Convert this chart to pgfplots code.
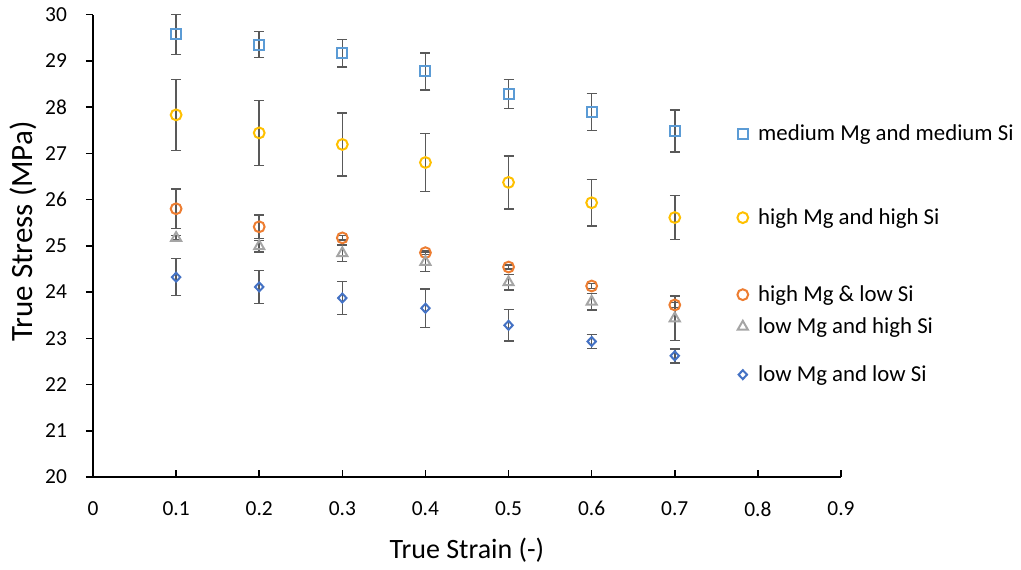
\documentclass[border=0pt]{standalone}
\usepackage{pgfplots}
\pgfplotsset{compat=1.18}
\usepackage{pgfplotstable}
\usepackage{fontspec}
\setmainfont{Carlito}

\definecolor{cMedMed}{HTML}{5B9BD5}
\definecolor{cHighHigh}{HTML}{FFC000}
\definecolor{cHighLow}{HTML}{ED7D31}
\definecolor{cLowHigh}{HTML}{A5A5A5}
\definecolor{cLowLow}{HTML}{4472C4}
\definecolor{cErr}{HTML}{595959}

% strain, mean stress (MPa), standard deviation
\pgfplotstableread{
x    y      e
0.1  29.57  0.43
0.2  29.35  0.28
0.3  29.16  0.30
0.4  28.77  0.40
0.5  28.28  0.31
0.6  27.89  0.40
0.7  27.48  0.45
}\medmed
\pgfplotstableread{
x    y      e
0.1  27.83  0.77
0.2  27.44  0.70
0.3  27.19  0.68
0.4  26.80  0.63
0.5  26.37  0.57
0.6  25.93  0.50
0.7  25.61  0.48
}\highhigh
\pgfplotstableread{
x    y      e
0.1  25.80  0.43
0.2  25.41  0.25
0.3  25.17  0.05
0.4  24.85  0.04
0.5  24.54  0.04
0.6  24.13  0.05
0.7  23.72  0.05
}\highlow
\pgfplotstableread{
x    y      e
0.1  25.17  0.05
0.2  24.99  0.12
0.3  24.84  0.18
0.4  24.65  0.21
0.5  24.21  0.17
0.6  23.79  0.18
0.7  23.43  0.48
}\lowhigh
\pgfplotstableread{
x    y      e
0.1  24.32  0.40
0.2  24.11  0.36
0.3  23.87  0.36
0.4  23.65  0.42
0.5  23.28  0.34
0.6  22.93  0.15
0.7  22.62  0.15
}\lowlow

\begin{document}
\begin{tikzpicture}
\begin{axis}[
  scale only axis,
  width=374pt, height=231.25pt,
  xmin=0, xmax=0.9, ymin=20, ymax=30,
  axis lines*=left,
  axis line style={black, line width=0.75pt, -},
  xtick={0,0.1,0.2,0.3,0.4,0.5,0.6,0.7,0.8,0.9},
  xticklabels={0,0.1,0.2,0.3,0.4,0.5,0.6,0.7,0.8,0.9},
  ytick={20,21,...,30},
  xtick align=inside, ytick align=outside,
  major tick length=3.5pt,
  tick style={black, line width=0.75pt},
  /pgf/number format/assume math mode=true,
  tick label style={font=\fontsize{10.7}{12}\selectfont, text=black},
  yticklabel style={xshift=-6pt},
  xticklabel style={yshift=-8.7pt},
  xlabel={True Strain (-)},
  ylabel={True Stress (MPa)},
  xlabel style={font=\fontsize{14}{16}\selectfont, at={(axis description cs:0.5,-0.158)}, anchor=center},
  ylabel style={font=\fontsize{15.5}{18}\selectfont, at={(axis description cs:-0.0936,0.531)}, anchor=center},
  only marks,
  error bars/y dir=both,
  error bars/y explicit,
  error bars/error bar style={cErr, line width=0.75pt},
  error bars/error mark options={cErr, rotate=90, mark size=2.5pt, line width=0.75pt},
  legend image code/.code={\draw[mark repeat=2,mark phase=2] plot coordinates {(0pt,3.5pt) (2.7pt,3.5pt) (5.4pt,3.5pt)};},
  legend cell align=left,
  legend style={
    at={(0.861,0.767)}, anchor=north west,
    draw=none, fill=none, inner sep=0pt,
    font=\fontsize{11.4}{13}\selectfont,
    nodes={inner ysep=0pt, inner xsep=0pt, anchor=base west},
    /tikz/every odd column/.style={column sep=5pt},
  },
]
\addplot[mark=square, mark size=2.5pt, mark options={cMedMed, line width=1pt}]
  table[x=x, y=y, y error=e] {\medmed};
\addlegendentry[text height=9pt, text depth=33pt]{medium Mg and medium Si}
\addplot[mark=o, mark size=2.7pt, mark options={cHighHigh, line width=1pt}]
  table[x=x, y=y, y error=e] {\highhigh};
\addlegendentry[text height=9pt, text depth=29.5pt]{high Mg and high Si}
\addplot[mark=o, mark size=2.7pt, mark options={cHighLow, line width=1pt}]
  table[x=x, y=y, y error=e] {\highlow};
\addlegendentry[text height=9pt, text depth=7pt]{high Mg \& low Si}
\addplot[mark=triangle, mark size=2.9pt, mark options={cLowHigh, line width=1pt}]
  table[x=x, y=y, y error=e] {\lowhigh};
\addlegendentry[text height=9pt, text depth=15pt]{low Mg and high Si}
\addplot[mark=diamond, mark size=2.8pt, mark options={cLowLow, line width=1pt, yscale=0.8}]
  table[x=x, y=y, y error=e] {\lowlow};
\addlegendentry[text height=9pt, text depth=3pt]{low Mg and low Si}
\coordinate (O) at (rel axis cs:0,0);
\end{axis}
\path (O) ++(-46.5pt,-46pt) rectangle ++(510.5pt,284.5pt);
\end{tikzpicture}
\end{document}
